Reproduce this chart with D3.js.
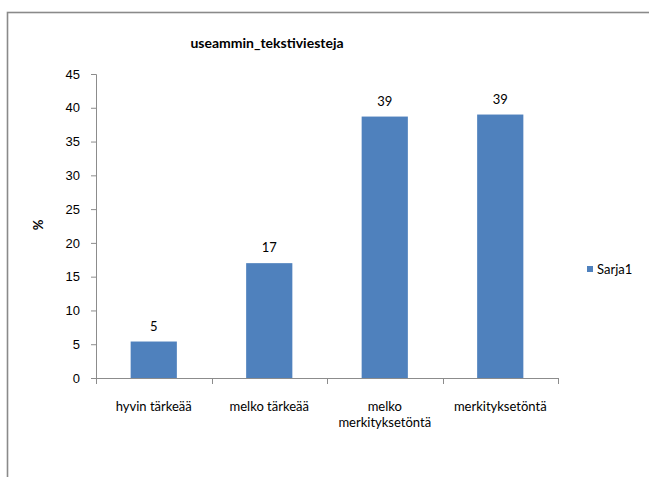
<!DOCTYPE html>
<html>
<head>
<meta charset="utf-8">
<script src="https://cdn.jsdelivr.net/npm/d3@7"></script>
<style>
  html, body { margin: 0; padding: 0; background: #fff; }
  svg { display: block; font-family: Lato, "Open Sans", "Liberation Sans", sans-serif; }
</style>
</head>
<body>
<svg id="chart" width="649" height="477"></svg>
<script>
// Share of respondents per answer option
const categories = [["hyvin tärkeää"], ["melko tärkeää"], ["melko", "merkityksetöntä"], ["merkityksetöntä"]];
const values = [5.4, 17.0, 38.7, 39.0];
const yTicks = [0, 5, 10, 15, 20, 25, 30, 35, 40, 45];
const titleText = "useammin_tekstiviesteja";
const yLabel = "%";
const seriesName = "Sarja1";

const svg = d3.select("#chart");
const barColor = "#4f81bd";
const axisColor = "#8c8c8c";

// Outer chart frame (extends beyond the visible window on right and bottom)
svg.append("rect")
  .attr("x", 7.5).attr("y", 12.5)
  .attr("width", 700).attr("height", 500)
  .attr("fill", "none")
  .attr("stroke", "#8a8a8a")
  .attr("stroke-width", 1.6);

const plot = { left: 96, right: 558, top: 74, bottom: 378 };

const x = d3.scaleBand()
  .domain(d3.range(categories.length))
  .range([plot.left, plot.right])
  .paddingInner(0.6)
  .paddingOuter(0.3);

const y = d3.scaleLinear()
  .domain([0, 45])
  .range([plot.bottom, plot.top]);

// Title
svg.append("text")
  .attr("x", 267).attr("y", 48)
  .attr("text-anchor", "middle")
  .attr("font-size", 14)
  .attr("font-weight", "bold")
  .attr("fill", "#000")
  .text(titleText);

// Y axis
const yAxis = svg.append("g")
  .attr("transform", `translate(${plot.left},0)`)
  .call(d3.axisLeft(y).tickValues(yTicks).tickSize(5).tickPadding(11).tickFormat(d3.format("d")));
yAxis.select(".domain").attr("stroke", axisColor);
yAxis.selectAll(".tick line").attr("stroke", axisColor);
yAxis.selectAll(".tick text")
  .attr("font-size", 13)
  .attr("fill", "#000")
  .attr("font-family", "inherit");

// Y axis title
svg.append("text")
  .attr("transform", `translate(43,225) rotate(-90)`)
  .attr("text-anchor", "middle")
  .attr("font-size", 13)
  .attr("font-weight", "bold")
  .attr("fill", "#000")
  .text(yLabel);

// Bars
svg.append("g").selectAll("rect")
  .data(values)
  .join("rect")
  .attr("x", (d, i) => x(i))
  .attr("y", d => y(d))
  .attr("width", x.bandwidth())
  .attr("height", d => y(0) - y(d))
  .attr("fill", barColor);

// Value labels
svg.append("g").selectAll("text")
  .data(values)
  .join("text")
  .attr("x", (d, i) => x(i) + x.bandwidth() / 2)
  .attr("y", d => y(d) - 11)
  .attr("text-anchor", "middle")
  .attr("font-size", 13)
  .attr("fill", "#000")
  .text(d => d3.format(".0f")(d));

// X axis: baseline with ticks at category boundaries
const boundaries = d3.range(categories.length + 1).map(i => plot.left + i * (plot.right - plot.left) / categories.length);
const xAxis = svg.append("g");
xAxis.append("line")
  .attr("x1", plot.left - 5).attr("x2", plot.right)
  .attr("y1", plot.bottom + 0.5).attr("y2", plot.bottom + 0.5)
  .attr("stroke", axisColor);
xAxis.selectAll("line.tick")
  .data(boundaries)
  .join("line")
  .attr("class", "tick")
  .attr("x1", d => Math.round(d) + 0.5).attr("x2", d => Math.round(d) + 0.5)
  .attr("y1", plot.bottom).attr("y2", plot.bottom + 6)
  .attr("stroke", axisColor);

// Category labels
const catLabels = svg.append("g").selectAll("text")
  .data(categories)
  .join("text")
  .attr("x", (d, i) => x(i) + x.bandwidth() / 2)
  .attr("y", 411)
  .attr("text-anchor", "middle")
  .attr("font-size", 13)
  .attr("fill", "#000");
catLabels.selectAll("tspan")
  .data(d => d)
  .join("tspan")
  .attr("x", function () { return d3.select(this.parentNode).attr("x"); })
  .attr("dy", (d, i) => i === 0 ? 0 : 16)
  .text(d => d);

// Legend
const legend = svg.append("g").attr("transform", "translate(587,266)");
legend.append("rect")
  .attr("width", 6).attr("height", 6)
  .attr("fill", barColor);
legend.append("text")
  .attr("x", 10).attr("y", 3)
  .attr("dy", "0.35em")
  .attr("font-size", 13)
  .attr("fill", "#000")
  .text(seriesName);
</script>
</body>
</html>
